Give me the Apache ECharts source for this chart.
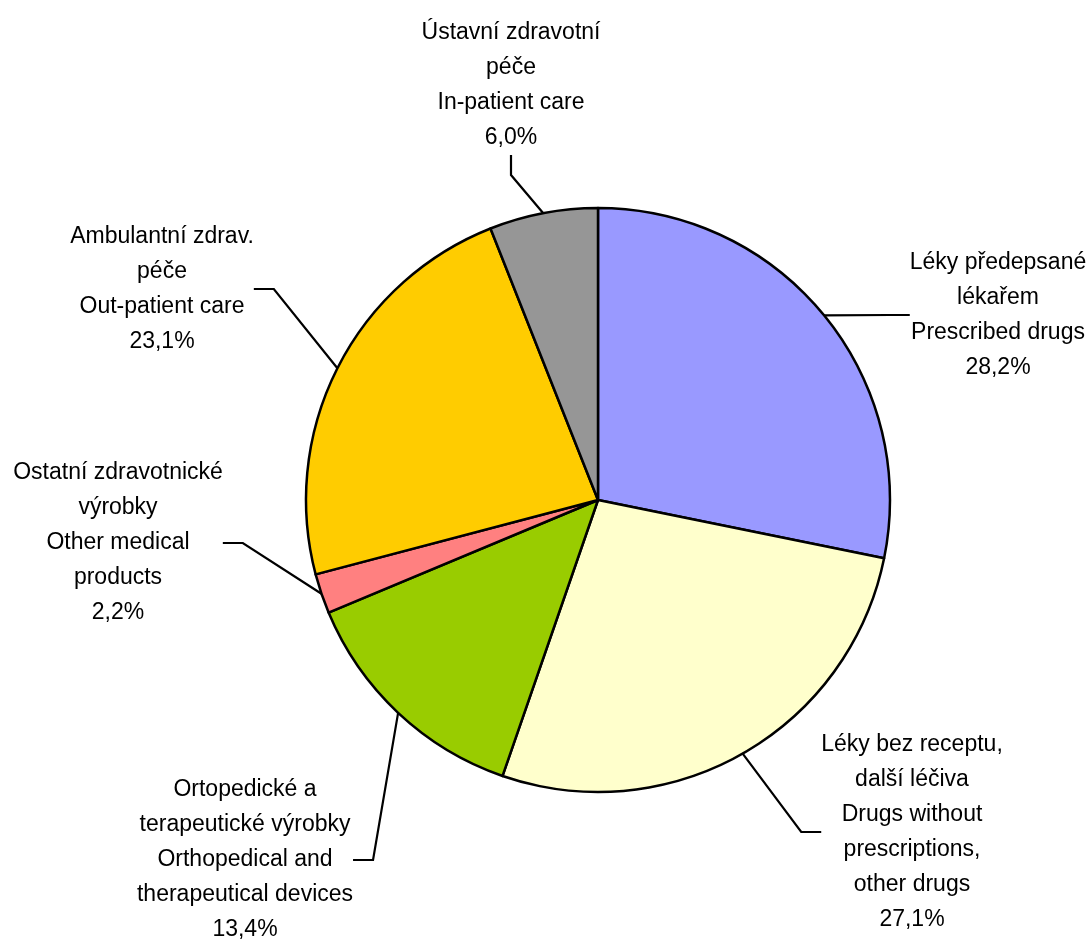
<!DOCTYPE html>
<html>
<head>
<meta charset="utf-8">
<script src="https://cdn.jsdelivr.net/npm/echarts@6/dist/echarts.min.js"></script>
<style>
  html, body { margin: 0; padding: 0; background: #fff; }
  #chart { width: 1092px; height: 942px; }
</style>
</head>
<body>
<div id="chart"></div>
<script>
// kategorie (cz / en) a podíly v %
var namesCz = ['Léky předepsané\nlékařem', 'Léky bez receptu,\ndalší léčiva', 'Ortopedické a\nterapeutické výrobky',
               'Ostatní zdravotnické\nvýrobky', 'Ambulantní zdrav.\npéče', 'Ústavní zdravotní\npéče'];
var namesEn = ['Prescribed drugs', 'Drugs without\nprescriptions,\nother drugs', 'Orthopedical and\ntherapeutical devices',
               'Other medical\nproducts', 'Out-patient care', 'In-patient care'];
var shares = [28.2, 27.1, 13.4, 2.2, 23.1, 6.0];
var colors = ['#9999FF', '#FFFFCC', '#99CC00', '#FF8080', '#FFCC00', '#969696'];

// středy popisků
var labelPos = [[998, 315], [912, 832], [245, 860], [118, 543], [162, 289], [511, 85]];

var chart = echarts.init(document.getElementById('chart'));

var pieData = shares.map(function (v, i) {
    return {
        value: v,
        name: namesCz[i] + '\n' + namesEn[i],
        itemStyle: { color: colors[i] }
    };
});

chart.setOption({
    backgroundColor: '#ffffff',
    animation: false,
    series: [{
        type: 'pie',
        center: [598, 500],
        radius: 292,
        startAngle: 90,
        clockwise: true,
        avoidLabelOverlap: false,
        data: pieData,
        itemStyle: { borderColor: '#000', borderWidth: 2.5 },
        label: {
            position: 'outside',
            color: '#000',
            fontFamily: 'Liberation Sans',
            fontSize: 23,
            lineHeight: 35,
            align: 'center',
            formatter: function (p) {
                return p.name + '\n' + p.value.toFixed(1).replace('.', ',') + '%';
            }
        },
        labelLine: {
            show: true,
            length: 20,
            length2: 20,
            lineStyle: { color: '#000', width: 2.2 }
        },
        // popisky posunuté jako v originále
        labelLayout: function (params) {
            var p = labelPos[params.dataIndex];
            return { x: p[0], y: p[1], align: 'center', verticalAlign: 'middle' };
        },
        emphasis: { disabled: true }
    }]
});
</script>
</body>
</html>
